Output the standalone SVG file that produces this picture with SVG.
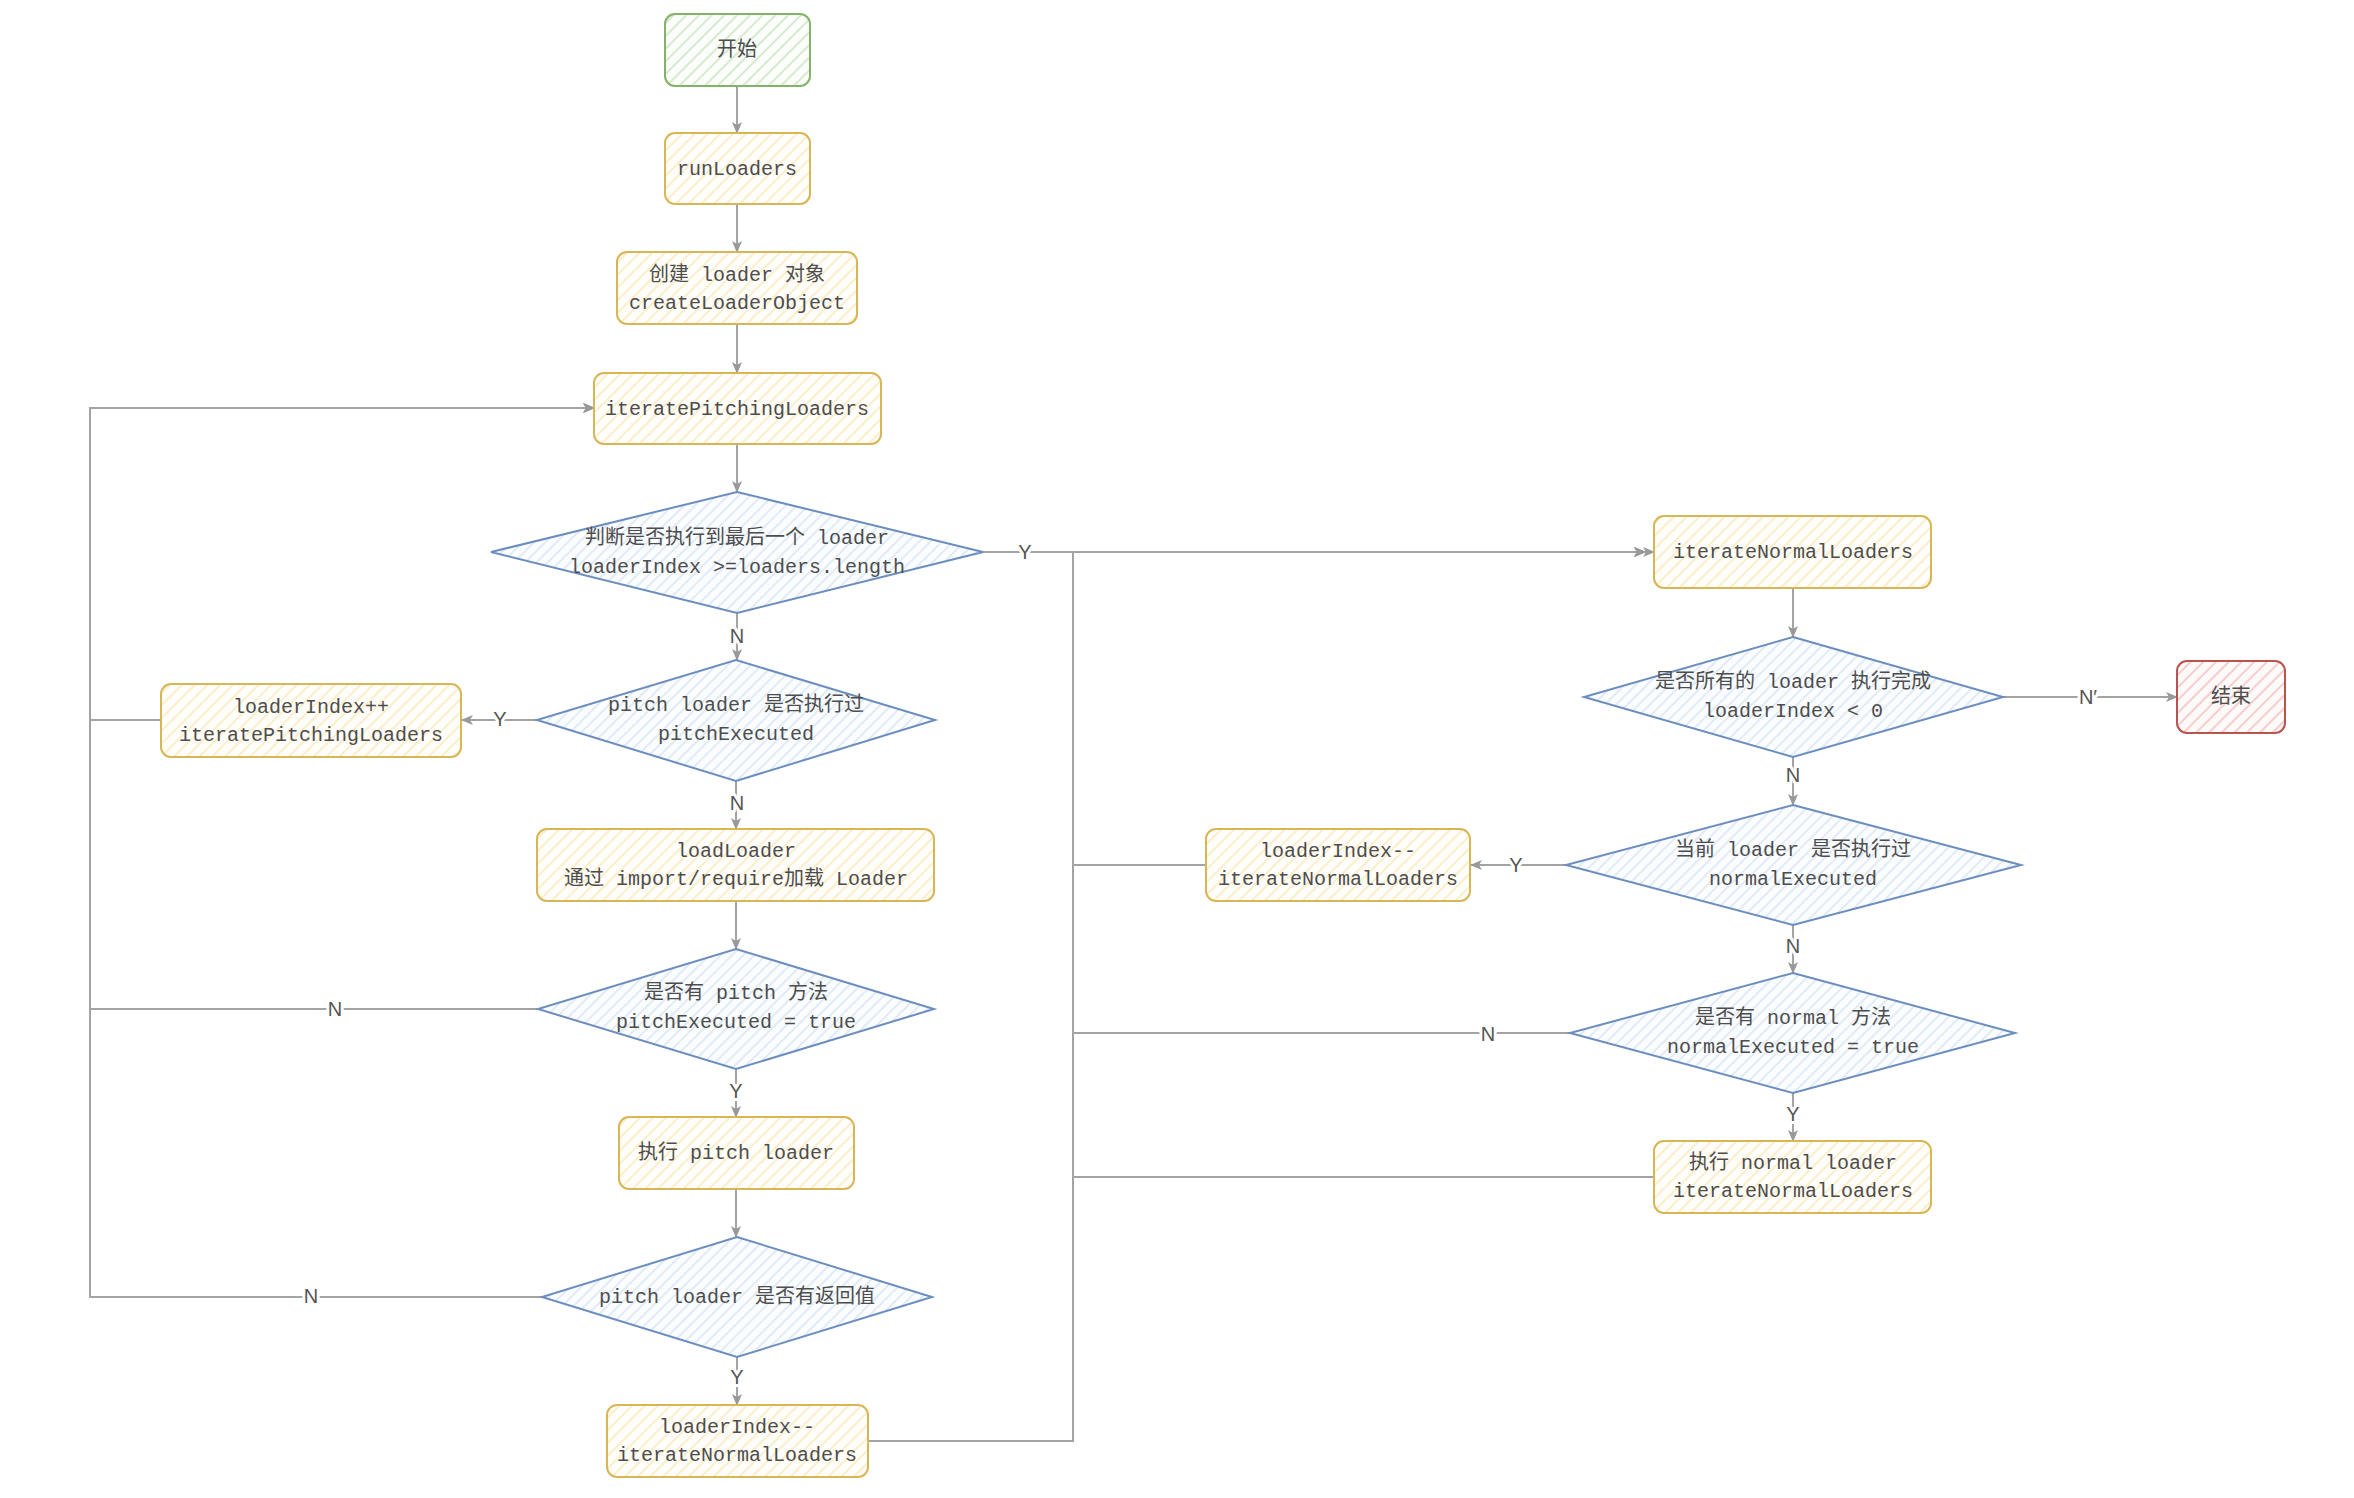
<svg xmlns="http://www.w3.org/2000/svg" width="2354" height="1498" viewBox="0 0 2354 1498">
<defs>
<pattern id="hy" width="9" height="9" patternUnits="userSpaceOnUse" patternTransform="rotate(45)">
<rect width="9" height="9" fill="#fffefa"/>
<line x1="1" y1="0" x2="1" y2="9" stroke="#fcebbf" stroke-width="1.6"/>
</pattern>
<pattern id="hb" width="8" height="8" patternUnits="userSpaceOnUse" patternTransform="rotate(45)">
<rect width="8" height="8" fill="#fbfdff"/>
<line x1="1" y1="0" x2="1" y2="8" stroke="#d6e4f6" stroke-width="1.4"/>
</pattern>
<pattern id="hg" width="9" height="9" patternUnits="userSpaceOnUse" patternTransform="rotate(45)">
<rect width="9" height="9" fill="#fbfefa"/>
<line x1="1" y1="0" x2="1" y2="9" stroke="#cfe6c6" stroke-width="1.6"/>
</pattern>
<pattern id="hr" width="9" height="9" patternUnits="userSpaceOnUse" patternTransform="rotate(45)">
<rect width="9" height="9" fill="#fffafa"/>
<line x1="1" y1="0" x2="1" y2="9" stroke="#f6c9c7" stroke-width="1.8"/>
</pattern>
<marker id="arr" viewBox="0 0 12 12" refX="11" refY="6" markerWidth="12" markerHeight="12" markerUnits="userSpaceOnUse" orient="auto">
<path d="M0,1 L12,6 L0,11 L3,6 Z" fill="#999"/>
</marker>
</defs>
<style>
.box{fill:url(#hy);stroke:#d8b655;stroke-width:2}
.dia{fill:url(#hb);stroke:#6c8ebf;stroke-width:2}
.t{font-family:"Liberation Mono","Noto Sans CJK SC",monospace;font-size:20px;fill:#4d4d4d;text-anchor:middle;dominant-baseline:central}
.c{fill:none;stroke:#a3a3a3;stroke-width:2}
.ca{fill:none;stroke:#a3a3a3;stroke-width:2;marker-end:url(#arr)}
.lb{font-family:"Liberation Sans","Noto Sans CJK SC",sans-serif;font-size:20px;fill:#555;text-anchor:middle;dominant-baseline:central;stroke:#fff;stroke-width:6px;paint-order:stroke;stroke-linejoin:round}
</style>
<rect width="2354" height="1498" fill="#fff"/>

<g id="connectors">
<path class="ca" d="M737,86 V133"/>
<path class="ca" d="M737,204 V252"/>
<path class="ca" d="M737,324 V373"/>
<path class="ca" d="M737,444 V492"/>
<path class="ca" d="M983,552 H1654"/>
<path class="ca" d="M737,613 V660"/>
<path class="ca" d="M537,720 H462"/>
<path class="ca" d="M161,720 H90 V408 H594"/>
<path class="ca" d="M736,781 V829"/>
<path class="ca" d="M736,901 V949"/>
<path class="ca" d="M537,1009 H90 V408 H594"/>
<path class="ca" d="M736,1069 V1117"/>
<path class="ca" d="M736,1189 V1237"/>
<path class="ca" d="M542,1297 H90 V408 H594"/>
<path class="ca" d="M737,1357 V1405"/>
<path class="ca" d="M868,1441 H1073 V552 H1645"/>
<path class="ca" d="M1793,588 V637"/>
<path class="ca" d="M2003,697 H2177"/>
<path class="ca" d="M1793,757 V805"/>
<path class="ca" d="M1566,865 H1471"/>
<path class="ca" d="M1206,865 H1073 V552 H1645"/>
<path class="ca" d="M1793,925 V973"/>
<path class="ca" d="M1570,1033 H1073 V552 H1645"/>
<path class="ca" d="M1793,1093 V1141"/>
<path class="ca" d="M1654,1177 H1073 V552 H1645"/>
<text class="lb" x="1025" y="552">Y</text>
<text class="lb" x="737" y="636">N</text>
<text class="lb" x="500" y="719">Y</text>
<text class="lb" x="737" y="803">N</text>
<text class="lb" x="335" y="1009">N</text>
<text class="lb" x="736" y="1091">Y</text>
<text class="lb" x="311" y="1296">N</text>
<text class="lb" x="737" y="1377">Y</text>
<text class="lb" x="2088" y="697">N′</text>
<text class="lb" x="1793" y="775">N</text>
<text class="lb" x="1516" y="865">Y</text>
<text class="lb" x="1793" y="946">N</text>
<text class="lb" x="1488" y="1034">N</text>
<text class="lb" x="1793" y="1114">Y</text>
</g>

<g id="start">
<rect x="665" y="14" width="145" height="72" rx="10" fill="url(#hg)" stroke="#82b366" stroke-width="2"/>
<text class="t" x="737" y="50">开始</text>
</g>
<g id="runLoaders">
<rect class="box" x="665" y="133" width="145" height="71" rx="10"/>
<text class="t" x="737" y="169">runLoaders</text>
</g>
<g id="createLoaderObject">
<rect class="box" x="617" y="252" width="240" height="72" rx="10"/>
<text class="t" x="737" y="275">创建 loader 对象</text>
<text class="t" x="737" y="303">createLoaderObject</text>
</g>
<g id="iteratePitchingLoaders">
<rect class="box" x="594" y="373" width="287" height="71" rx="10"/>
<text class="t" x="737" y="409">iteratePitchingLoaders</text>
</g>
<g id="d1">
<polygon class="dia" points="737,492 983,552 737,613 491,552"/>
<text class="t" x="737" y="538">判断是否执行到最后一个 loader</text>
<text class="t" x="737" y="567">loaderIndex &gt;=loaders.length</text>
</g>
<g id="d2">
<polygon class="dia" points="736,660 935,720 736,781 537,720"/>
<text class="t" x="736" y="705">pitch loader 是否执行过</text>
<text class="t" x="736" y="734">pitchExecuted</text>
</g>
<g id="loaderIndexInc">
<rect class="box" x="161" y="684" width="300" height="73" rx="10"/>
<text class="t" x="311" y="707">loaderIndex++</text>
<text class="t" x="311" y="735">iteratePitchingLoaders</text>
</g>
<g id="loadLoader">
<rect class="box" x="537" y="829" width="397" height="72" rx="10"/>
<text class="t" x="736" y="851">loadLoader</text>
<text class="t" x="736" y="879">通过 import/require加载 Loader</text>
</g>
<g id="d3">
<polygon class="dia" points="736,949 934,1009 736,1069 538,1009"/>
<text class="t" x="736" y="993">是否有 pitch 方法</text>
<text class="t" x="736" y="1022">pitchExecuted = true</text>
</g>
<g id="execPitch">
<rect class="box" x="619" y="1117" width="235" height="72" rx="10"/>
<text class="t" x="736" y="1153">执行 pitch loader</text>
</g>
<g id="d4">
<polygon class="dia" points="737,1237 932,1297 737,1357 542,1297"/>
<text class="t" x="737" y="1297">pitch loader 是否有返回值</text>
</g>
<g id="loaderIndexDec1">
<rect class="box" x="607" y="1405" width="261" height="72" rx="10"/>
<text class="t" x="737" y="1427">loaderIndex--</text>
<text class="t" x="737" y="1455">iterateNormalLoaders</text>
</g>
<g id="iterateNormalLoaders">
<rect class="box" x="1654" y="516" width="277" height="72" rx="10"/>
<text class="t" x="1793" y="552">iterateNormalLoaders</text>
</g>
<g id="d5">
<polygon class="dia" points="1793,637 2003,697 1793,757 1584,697"/>
<text class="t" x="1793" y="682">是否所有的 loader 执行完成</text>
<text class="t" x="1793" y="711">loaderIndex &lt; 0</text>
</g>
<g id="end">
<rect x="2177" y="661" width="108" height="72" rx="10" fill="url(#hr)" stroke="#b85450" stroke-width="2"/>
<text class="t" x="2231" y="697">结束</text>
</g>
<g id="d6">
<polygon class="dia" points="1793,805 2021,865 1793,925 1566,865"/>
<text class="t" x="1793" y="850">当前 loader 是否执行过</text>
<text class="t" x="1793" y="879">normalExecuted</text>
</g>
<g id="loaderIndexDec2">
<rect class="box" x="1206" y="829" width="264" height="72" rx="10"/>
<text class="t" x="1338" y="851">loaderIndex--</text>
<text class="t" x="1338" y="879">iterateNormalLoaders</text>
</g>
<g id="d7">
<polygon class="dia" points="1793,973 2015,1033 1793,1093 1570,1033"/>
<text class="t" x="1793" y="1018">是否有 normal 方法</text>
<text class="t" x="1793" y="1047">normalExecuted = true</text>
</g>
<g id="execNormal">
<rect class="box" x="1654" y="1141" width="277" height="72" rx="10"/>
<text class="t" x="1793" y="1163">执行 normal loader</text>
<text class="t" x="1793" y="1191">iterateNormalLoaders</text>
</g>
</svg>
